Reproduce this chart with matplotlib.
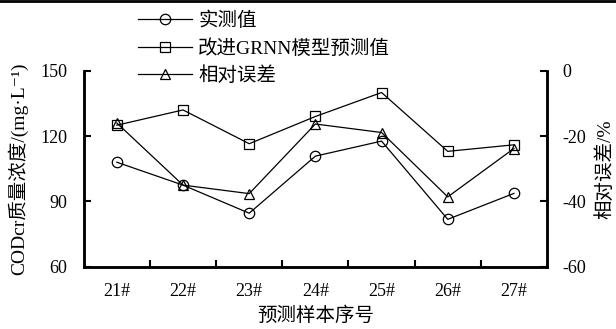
import matplotlib.pyplot as plt
from matplotlib.lines import Line2D

plt.rcParams['font.family'] = ['Liberation Serif', 'Noto Sans CJK SC', 'DejaVu Sans']
plt.rcParams['font.size'] = 13
plt.rcParams['axes.unicode_minus'] = False

# Data
samples = ['21#', '22#', '23#', '24#', '25#', '26#', '27#']
measured = [108, 97.5, 84.6, 110.8, 117.7, 81.8, 93.7]
predicted = [125, 132, 116.5, 129, 140, 113, 116]
rel_error = [-16, -35, -37.6, -16.3, -18.9, -38.6, -23.8]

x = list(range(len(samples)))

fig = plt.figure(figsize=(6.16, 3.29), dpi=100)
ax = fig.add_axes([0.136, 0.189, 0.752, 0.596])
ax2 = ax.twinx()

mk = dict(color='black', lw=0.9, markerfacecolor='none', markeredgecolor='black',
          markeredgewidth=0.9, markersize=7.5)
l1, = ax.plot(x, measured, marker='o', label='实测值', **mk)
l2, = ax.plot(x, predicted, marker='s', label='改进GRNN模型预测值', **mk)
l3, = ax2.plot(x, rel_error, marker='^', label='相对误差', **mk)

ax.set_xlim(-0.5, len(samples) - 0.5)
ax.set_ylim(60, 150)
ax.set_yticks([60, 90, 120, 150])
ax2.set_ylim(-60, 0)
ax2.set_yticks([-60, -40, -20, 0])

# tick marks between categories, labels at centres
ax.set_xticks([i + 0.5 for i in range(len(samples) - 1)])
ax.set_xticklabels([])
ax.set_xticks(x, minor=True)
ax.set_xticklabels(samples, minor=True)
ax.tick_params(axis='x', which='major', direction='in', length=5, width=1.5)
ax.tick_params(axis='x', which='minor', length=0, pad=12)
ax.tick_params(axis='y', direction='in', length=5, width=1.5, pad=12)
ax2.tick_params(axis='y', direction='in', length=5, width=1.5, pad=11)

for a in (ax, ax2):
    a.spines['top'].set_visible(False)
    for s in ('left', 'right', 'bottom'):
        a.spines[s].set_linewidth(1.8)

ax.set_xlabel('预测样本序号', fontsize=14)
ax.xaxis.label.set_va('center')
ax.xaxis.set_label_coords(0.5, -0.252)
ax.set_ylabel('CODcr质量浓度/(mg·L⁻¹)', fontsize=14)
ax.yaxis.label.set_va('center')
ax.yaxis.set_label_coords(-0.143, 0.5)
ax2.set_ylabel('相对误差/%', rotation=90, fontsize=14)
ax2.yaxis.label.set_va('center')
ax2.yaxis.set_label_coords(1.125, 0.5)

fig.legend(handles=[l1, l2, l3], loc='upper left', bbox_to_anchor=(0.205, 1.0),
           frameon=False, handlelength=2.8, handletextpad=0.3, labelspacing=0.45,
           borderaxespad=0.2, fontsize=14)

# border line across the top of the figure
fig.add_artist(Line2D([0, 1], [0.997, 0.997], color='black', lw=2, transform=fig.transFigure))

fig.savefig('out.png', dpi=100)
